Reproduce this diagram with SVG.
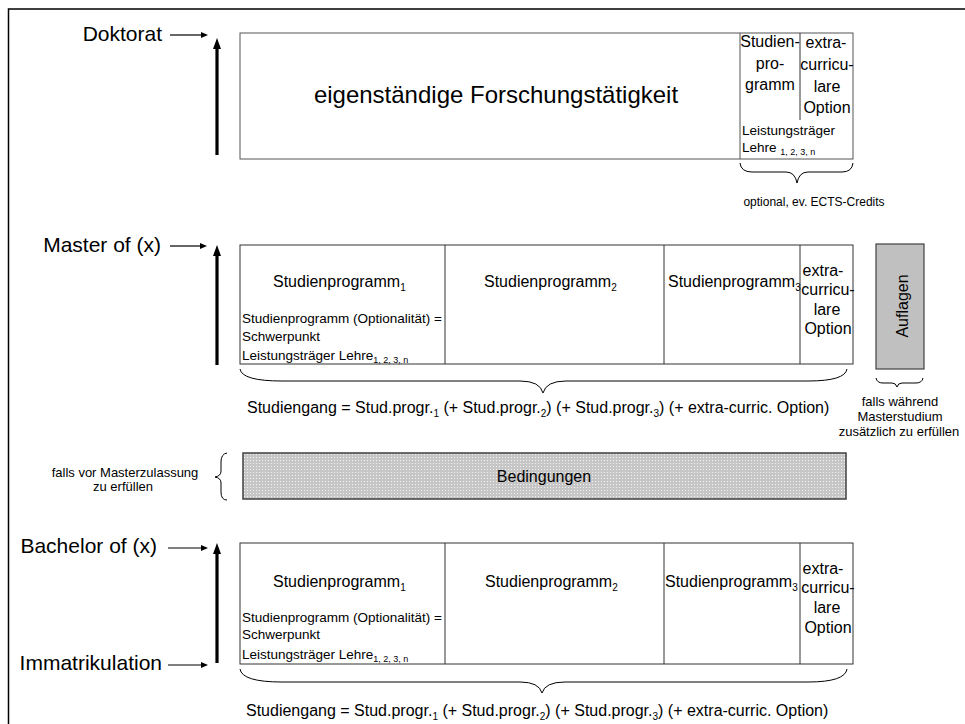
<svg xmlns="http://www.w3.org/2000/svg" width="965" height="724" viewBox="0 0 965 724">
<style>
text{font-family:"Liberation Sans",Arial,sans-serif;fill:#000}
.lbl{font-size:21px;text-anchor:end}
.t16{font-size:16px}
.t13{font-size:13.5px}
.t12{font-size:12px}
.mid{text-anchor:middle}
.box{fill:#fff;stroke:#333;stroke-width:1}
.div{stroke:#333;stroke-width:1}
.brace{fill:none;stroke:#000;stroke-width:1}
.thick{stroke:#000;stroke-width:3.2;fill:none}
.thin{stroke:#000;stroke-width:1.2;fill:none}
</style>
<defs>
<marker id="bigHead" markerUnits="userSpaceOnUse" markerWidth="12" markerHeight="10" viewBox="0 -5 12 10" refX="0" refY="0" orient="auto"><path d="M0,-4 L11,0 L0,4 Z" fill="#000"/></marker>
<marker id="smallHead" markerUnits="userSpaceOnUse" markerWidth="8" markerHeight="8" viewBox="0 -4 8 8" refX="0" refY="0" orient="auto"><path d="M0,-3 L7,0 L0,3 Z" fill="#000"/></marker>
<pattern id="dots" width="3" height="3" patternUnits="userSpaceOnUse"><rect width="3" height="3" fill="#c6c6c6"/><rect x="1" y="1" width="1" height="1" fill="#f2f2f2"/></pattern>
</defs>
<rect x="8.5" y="9" width="1000" height="1000" fill="#fff" stroke="#000" stroke-width="1.5"/>

<g id="labels">
<text class="lbl" x="162" y="41">Doktorat</text>
<text class="lbl" x="161" y="252">Master of (x)</text>
<text class="lbl" x="157" y="553">Bachelor of (x)</text>
<text class="lbl" x="162" y="670">Immatrikulation</text>
</g>

<g id="connectors">
<line class="thin" x1="170" y1="35" x2="201" y2="35" marker-end="url(#smallHead)"/>
<line class="thin" x1="170" y1="246" x2="200" y2="246" marker-end="url(#smallHead)"/>
<line class="thin" x1="168" y1="548" x2="201" y2="548" marker-end="url(#smallHead)"/>
<line class="thin" x1="168" y1="665" x2="201" y2="665" marker-end="url(#smallHead)"/>
<line class="thick" x1="217" y1="155" x2="217" y2="49" marker-end="url(#bigHead)"/>
<line class="thick" x1="217" y1="365" x2="217" y2="256" marker-end="url(#bigHead)"/>
<line class="thick" x1="217" y1="663" x2="217" y2="554" marker-end="url(#bigHead)"/>
</g>

<g id="doktorat">
<rect class="box" x="240" y="33" width="613" height="126" style="stroke:#555"/>
<line class="div" x1="740" y1="33" x2="740" y2="159" style="stroke:#555"/>
<line class="div" x1="800" y1="33" x2="800" y2="120"/>
<text x="496" y="103" class="mid" font-size="24">eigenständige Forschungstätigkeit</text>
<text class="t16 mid" x="770" y="47">Studien-</text>
<text class="t16 mid" x="770" y="69">pro-</text>
<text class="t16 mid" x="770" y="90">gramm</text>
<text class="t16 mid" x="826" y="48">extra-</text>
<text class="t16 mid" x="827" y="70">curricu-</text>
<text class="t16 mid" x="827" y="92">lare</text>
<text class="t16 mid" x="827" y="113">Option</text>
<text class="t13" x="742" y="135">Leistungsträger</text>
<text class="t13" x="742" y="152">Lehre <tspan font-size="9" dy="3">1, 2, 3, n</tspan></text>
</g>

<g id="doktorat-brace">
<path class="brace" d="M740,163 Q741,172 752,172 L786,172 Q795,172 797,183 Q799,172 808,172 L842,172 Q852,172 853,163"/>
<text class="t12 mid" x="814" y="206">optional, ev. ECTS-Credits</text>
</g>

<g id="master">
<rect class="box" x="240" y="245" width="613" height="119"/>
<line class="div" x1="445" y1="245" x2="445" y2="364"/>
<line class="div" x1="664" y1="245" x2="664" y2="364"/>
<line class="div" x1="800" y1="245" x2="800" y2="364"/>
<text class="t16" x="273" y="287">Studienprogramm<tspan font-size="10" dy="4">1</tspan></text>
<text class="t13" x="242" y="323">Studienprogramm (Optionalität) =</text>
<text class="t13" x="242" y="341">Schwerpunkt</text>
<text class="t13" x="242" y="360">Leistungsträger Lehre<tspan font-size="9" dy="3">1, 2, 3, n</tspan></text>
<text class="t16" x="484" y="287">Studienprogramm<tspan font-size="10" dy="4">2</tspan></text>
<text class="t16" x="668" y="287">Studienprogramm<tspan font-size="10" dy="4">3</tspan></text>
<text class="t16 mid" x="823" y="276">extra-</text>
<text class="t16 mid" x="828" y="295">curricu-</text>
<text class="t16 mid" x="827" y="315">lare</text>
<text class="t16 mid" x="828" y="334">Option</text>
</g>

<g id="master-brace">
<path class="brace" d="M240,369 Q242,381 282,381 L520,381 Q540,381 543,393 Q546,381 566,381 L808,381 Q845,381 847,369"/>
<text class="t16" x="247" y="413">Studiengang = Stud.progr.<tspan font-size="10" dy="4">1</tspan><tspan dy="-4"> (+ Stud.progr.</tspan><tspan font-size="10" dy="4">2</tspan><tspan dy="-4">) (+ Stud.progr.</tspan><tspan font-size="10" dy="4">3</tspan><tspan dy="-4">) (+ extra-curric. Option)</tspan></text>
</g>

<g id="auflagen">
<rect x="876" y="244" width="48" height="125" fill="#c0c0c0" stroke="#404040" stroke-width="1.2"/>
<text class="t16 mid" transform="translate(908,306) rotate(-90)">Auflagen</text>
<path class="brace" d="M876,378 Q877,383 883,383 L892,383 Q896,383 897,387 Q898,383 902,383 L916,383 Q922,383 923,378"/>
<text class="mid" font-size="13" x="900" y="406">falls während</text>
<text class="mid" font-size="13" x="900" y="421">Masterstudium</text>
<text class="mid" font-size="13" x="899" y="436">zusätzlich zu erfüllen</text>
</g>

<g id="bedingungen">
<rect x="243" y="453" width="603" height="46" fill="url(#dots)" stroke="#404040" stroke-width="1.5"/>
<text class="t16 mid" x="544" y="482">Bedingungen</text>
<path class="brace" d="M227,453 Q221,454 221,462 L221,471 Q221,476 215,477 Q221,478 221,483 L221,492 Q221,500 227,500"/>
<text class="mid" font-size="13" x="125" y="477">falls vor Masterzulassung</text>
<text class="mid" font-size="13" x="123" y="491">zu erfüllen</text>
</g>

<g id="bachelor">
<rect class="box" x="240" y="543" width="613" height="121"/>
<line class="div" x1="445" y1="543" x2="445" y2="664"/>
<line class="div" x1="664" y1="543" x2="664" y2="664"/>
<line class="div" x1="800" y1="543" x2="800" y2="664"/>
<text class="t16" x="273" y="587">Studienprogramm<tspan font-size="10" dy="4">1</tspan></text>
<text class="t13" x="242" y="622">Studienprogramm (Optionalität) =</text>
<text class="t13" x="242" y="639">Schwerpunkt</text>
<text class="t13" x="242" y="659">Leistungsträger Lehre<tspan font-size="9" dy="3">1, 2, 3, n</tspan></text>
<text class="t16" x="485" y="587">Studienprogramm<tspan font-size="10" dy="4">2</tspan></text>
<text class="t16" x="665" y="587">Studienprogramm<tspan font-size="10" dy="4">3</tspan></text>
<text class="t16 mid" x="823" y="574">extra-</text>
<text class="t16 mid" x="828" y="593">curricu-</text>
<text class="t16 mid" x="827" y="613">lare</text>
<text class="t16 mid" x="828" y="633">Option</text>
</g>

<g id="bachelor-brace">
<path class="brace" d="M240,669 Q242,682 282,682 L520,682 Q539,682 542,693 Q545,682 565,682 L808,682 Q845,682 847,669"/>
<text class="t16" x="246" y="716">Studiengang = Stud.progr.<tspan font-size="10" dy="4">1</tspan><tspan dy="-4"> (+ Stud.progr.</tspan><tspan font-size="10" dy="4">2</tspan><tspan dy="-4">) (+ Stud.progr.</tspan><tspan font-size="10" dy="4">3</tspan><tspan dy="-4">) (+ extra-curric. Option)</tspan></text>
</g>
</svg>
